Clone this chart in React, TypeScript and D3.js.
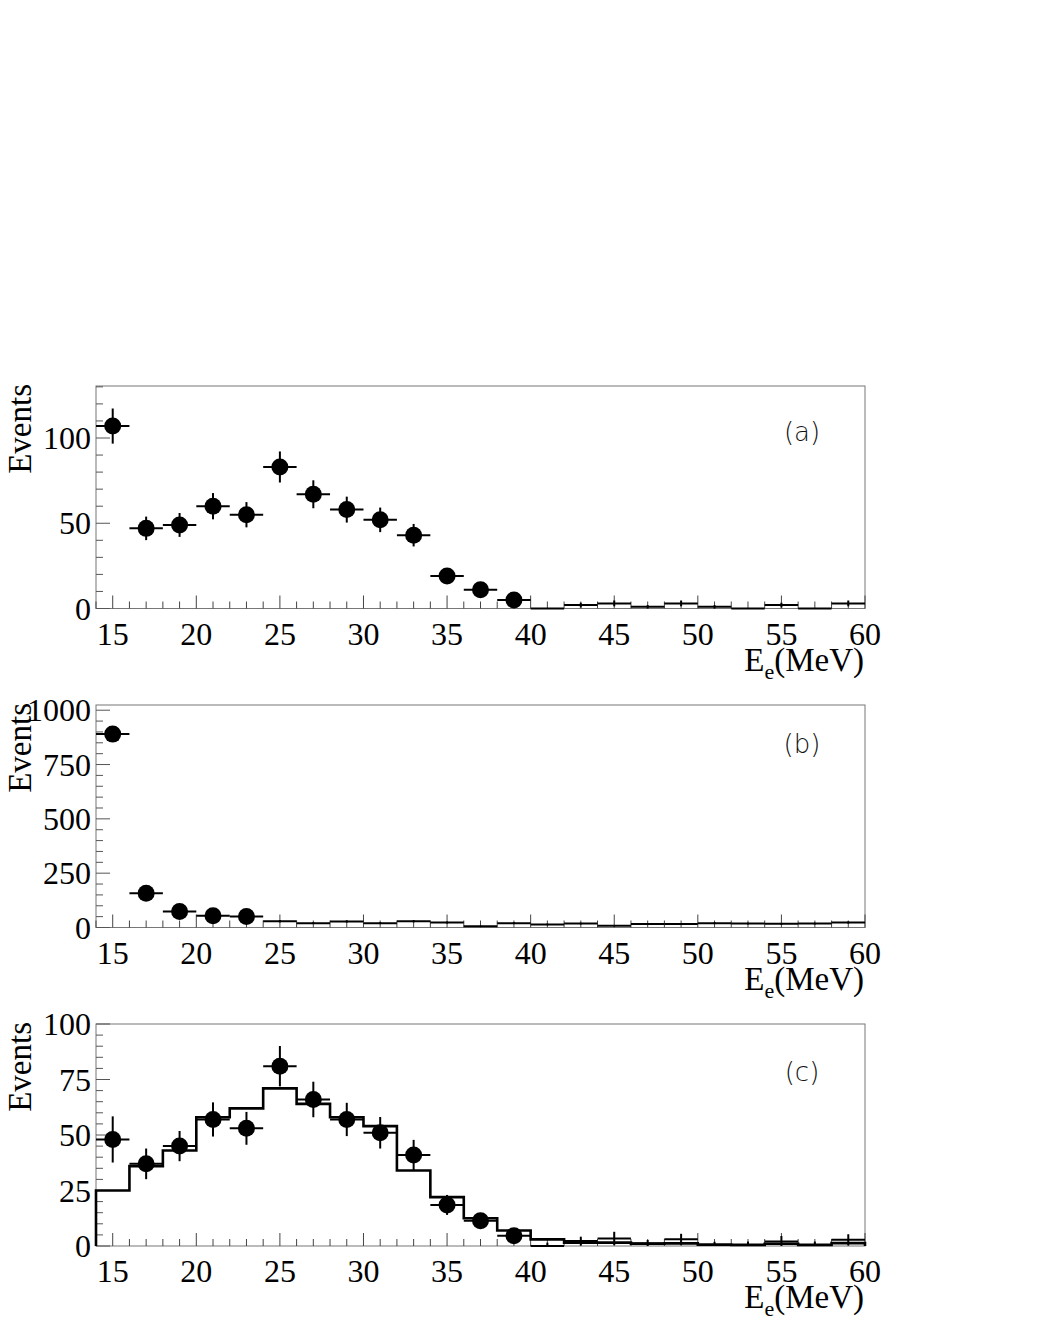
import React from "react";
import * as d3 from "d3";

// ---- data ----
const binCenters = [15, 17, 19, 21, 23, 25, 27, 29, 31, 33, 35, 37, 39, 41, 43, 45, 47, 49, 51, 53, 55, 57, 59];
const xTickLabels = [15, 20, 25, 30, 35, 40, 45, 50, 55, 60];

const dataA = [107, 47, 49, 60, 55, 83, 67, 58, 52, 43, 19, 11, 5, 0, 2, 3, 1, 3, 1, 0, 2, 0, 3];
const errA = [10.3, 6.9, 7, 7.7, 7.4, 9.1, 8.2, 7.6, 7.2, 6.6, 4.4, 3.3, 2.2, 0, 1.4, 1.7, 1, 1.7, 1, 0, 1.4, 0, 1.7];

const dataB = [890, 158, 74, 54, 51, 29, 20, 28, 20, 29, 23, 6, 20, 14, 18, 8, 16, 16, 20, 18, 17, 18, 23];
const errB = [30, 12.6, 8.6, 7.3, 7.1, 5.4, 4.5, 5.3, 4.5, 5.4, 4.8, 2.4, 4.5, 3.7, 4.2, 2.8, 4, 4, 4.5, 4.2, 4.1, 4.2, 4.8];

const dataC = [48, 37, 45, 57, 53, 81, 66, 57, 51, 41, 18.5, 11.4, 4.6, 0, 2.2, 3.4, 1.2, 3, 0.4, 0.5, 2, 0.5, 2.8];
const errC = [10.4, 6.9, 6.8, 7.7, 7.4, 9.1, 8, 7.5, 7.1, 6.8, 4.5, 3.5, 2.5, 1.5, 2, 3, 1.5, 2.5, 1.5, 1.5, 2.5, 1.5, 2.5];
const mcC = [25, 36, 43, 58, 62, 71, 64, 58, 54, 34, 22, 12.5, 7, 3, 1.5, 1.5, 1, 1.2, 0.6, 0.5, 1, 0.5, 1.3];

const yTicksA = [0, 50, 100];
const yTicksB = [0, 250, 500, 750, 1000];
const yTicksC = [0, 25, 50, 75, 100];

const panelLabels = ["(a)", "(b)", "(c)"];

// ---- layout ----
const W = 1038;
const H = 1343;
const X0 = 96;
const X1 = 865;
const BIN_W = 2;

const panels = [
  { top: 386, bottom: 608.5, ymax: 130.5, minor: 10, ticks: yTicksA, data: dataA, err: errA, mc: null as number[] | null, markerUntil: 40, label: panelLabels[0], labelY: 441 },
  { top: 705, bottom: 927.5, ymax: 1024, minor: 50, ticks: yTicksB, data: dataB, err: errB, mc: null as number[] | null, markerUntil: 24, label: panelLabels[1], labelY: 753 },
  { top: 1024, bottom: 1246, ymax: 100, minor: 5, ticks: yTicksC, data: dataC, err: errC, mc: mcC, markerUntil: 40, label: panelLabels[2], labelY: 1081 },
];

const serif = "'Liberation Serif', 'Times New Roman', serif";
const frameColor = "#777";

function Panel({ p }: { p: (typeof panels)[number] }) {
  const x = d3.scaleLinear().domain([14, 60]).range([X0, X1]);
  const y = d3.scaleLinear().domain([0, p.ymax]).range([p.bottom, p.top]);

  const xMinor = d3.range(14, 61, 1);
  const yMinor = d3.range(0, p.ymax + 0.001, p.minor);

  let histPath = "";
  if (p.mc) {
    const pts: [number, number][] = [[14, 0]];
    p.mc.forEach((v, i) => {
      pts.push([binCenters[i] - BIN_W / 2, v]);
      pts.push([binCenters[i] + BIN_W / 2, v]);
    });
    pts.push([60, 0]);
    histPath = d3.line<[number, number]>().x((d) => x(d[0])).y((d) => y(d[1]))(pts) || "";
  }

  return (
    <g>
      {/* frame */}
      <rect x={X0} y={p.top} width={X1 - X0} height={p.bottom - p.top} fill="none" stroke={frameColor} strokeWidth={1} />
      {/* x ticks */}
      {xMinor.map((t) => {
        const major = t % 5 === 0;
        return <line key={"xt" + t} x1={x(t)} x2={x(t)} y1={p.bottom} y2={p.bottom - (major ? 13 : 7)} stroke="#444" strokeWidth={1} />;
      })}
      {/* y ticks */}
      {yMinor.map((t) => {
        const major = p.ticks.some((m) => Math.abs(m - t) < 1e-6);
        return <line key={"yt" + t} x1={X0} x2={X0 + (major ? 14 : 7)} y1={y(t)} y2={y(t)} stroke="#555" strokeWidth={1} />;
      })}
      {/* x tick labels */}
      {xTickLabels.map((t) => (
        <text key={"xl" + t} x={x(t)} y={p.bottom + 36} fontFamily={serif} fontSize={32} textAnchor="middle">
          {t}
        </text>
      ))}
      {/* y tick labels */}
      {p.ticks.map((t) => (
        <text key={"yl" + t} x={91} y={y(t) + 11} fontFamily={serif} fontSize={32} textAnchor="end">
          {t}
        </text>
      ))}
      {/* y title */}
      <text transform={`translate(31, ${p.top - 2}) rotate(-90)`} fontFamily={serif} fontSize={33} textAnchor="end">
        Events
      </text>
      {/* x title */}
      <text x={864} y={p.bottom + 62} fontFamily={serif} fontSize={33} textAnchor="end">
        E
        <tspan fontSize={22} dy={8}>e</tspan>
        <tspan dy={-8}>(MeV)</tspan>
      </text>
      {/* panel label */}
      <text x={802} y={p.labelY} fontFamily="'DejaVu Sans', sans-serif" fontWeight={300} fontSize={26} textAnchor="middle" fill="#111">
        {p.label}
      </text>
      {/* MC histogram */}
      {p.mc && <path d={histPath} fill="none" stroke="#000" strokeWidth={2.6} />}
      {/* data */}
      {binCenters.map((c, i) => {
        const v = p.data[i];
        const e = p.err[i];
        return (
          <g key={"d" + i}>
            <line x1={x(c - BIN_W / 2)} x2={x(c + BIN_W / 2)} y1={y(v)} y2={y(v)} stroke="#000" strokeWidth={2} />
            {e > 0 && <line x1={x(c)} x2={x(c)} y1={y(Math.max(0, v - e))} y2={y(v + e)} stroke="#000" strokeWidth={2} />}
            {c < p.markerUntil && <circle cx={x(c)} cy={y(v)} r={8.5} fill="#000" />}
          </g>
        );
      })}
    </g>
  );
}

export default function App() {
  return (
    <div style={{ position: "absolute", left: 0, top: 0 }}>
      <svg width={W} height={H} viewBox={`0 0 ${W} ${H}`} style={{ display: "block", background: "#fff" }}>
        {panels.map((p, i) => (
          <Panel key={i} p={p} />
        ))}
      </svg>
    </div>
  );
}
